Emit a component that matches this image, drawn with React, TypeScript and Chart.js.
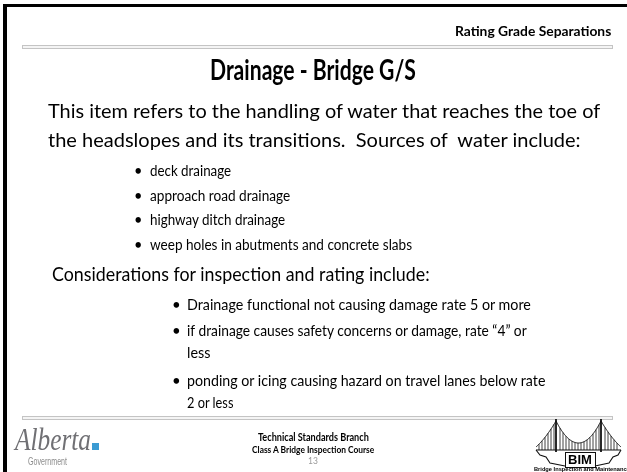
import React, { useEffect, useLayoutEffect, useRef } from "react";
import { Chart, registerables } from "chart.js";

Chart.register(...registerables);

// ---- slide content ----
const headerLabel = "Rating Grade Separations";
const slideTitle = "Drainage - Bridge G/S";
const introLines = [
  "This item refers to the handling of water that reaches the toe of",
  "the headslopes and its transitions.  Sources of  water include:",
];
const sourceItems = [
  "deck drainage",
  "approach road drainage",
  "highway ditch drainage",
  "weep holes in abutments and concrete slabs",
];
const considerationsLead = "Considerations for inspection and rating include:";
const considerationItems = [
  ["Drainage functional not causing damage rate 5 or more"],
  ["if drainage causes safety concerns or damage, rate \u201c4\u201d or", "less"],
  ["ponding or icing causing hazard on travel lanes below rate", "2 or less"],
];
const footerLines = ["Technical Standards Branch", "Class A Bridge Inspection Course"];
const pageNumber = "13";
const albertaWord = "Alberta";
const albertaSub = "Government";
const bimWord = "BIM";
const bimCaption = "Bridge Inspection and Maintenance";

type TextSpec = {
  text: string;
  x: number;
  y: number;
  size: number;
  weight?: number;
  width?: number;
  align?: "left" | "center" | "right";
  color?: string;
  family?: string;
  italic?: boolean;
};

const BODY = "Lato, 'Open Sans', sans-serif";

function FitText({ spec }: { spec: TextSpec }) {
  const ref = useRef<HTMLDivElement>(null);
  useLayoutEffect(() => {
    const el = ref.current;
    if (!el) return;
    const fit = () => {
      const natural = el.offsetWidth || 1;
      const target = spec.width ?? natural;
      const s = target / natural;
      el.style.transform = `scaleX(${s})`;
      const left =
        spec.align === "center" ? spec.x - target / 2 : spec.align === "right" ? spec.x - target : spec.x;
      el.style.left = left + "px";
    };
    fit();
    if ((document as any).fonts?.ready) (document as any).fonts.ready.then(fit);
  }, [spec]);
  return (
    <div
      ref={ref}
      style={{
        position: "absolute",
        top: spec.y - spec.size * 0.53,
        left: spec.x,
        whiteSpace: "pre",
        lineHeight: 1,
        fontSize: spec.size,
        fontFamily: spec.family ?? BODY,
        fontWeight: spec.weight ?? 400,
        fontStyle: spec.italic ? "italic" : "normal",
        color: spec.color ?? "#000",
        transformOrigin: "0 0",
      }}
    >
      {spec.text}
    </div>
  );
}

const decorPlugin = {
  id: "slideDecor",
  afterDraw(chart: any) {
    const { ctx, scales } = chart;
    const X = (v: number) => scales.x.getPixelForValue(v);
    const Y = (v: number) => scales.y.getPixelForValue(v);
    ctx.save();
    // frame
    ctx.fillStyle = "#000";
    ctx.fillRect(X(3), Y(4), X(627) - X(3), Y(7) - Y(4));
    ctx.fillRect(X(3), Y(4), X(7) - X(3), Y(472) - Y(4));
    // separator bars
    const bar = (y: number) => {
      ctx.fillStyle = "#f4f4f4";
      ctx.fillRect(X(22), Y(y), X(612) - X(22), 3);
      ctx.strokeStyle = "#c4c4c4";
      ctx.lineWidth = 1;
      ctx.strokeRect(X(22) + 0.5, Y(y) + 0.5, X(612) - X(22), 3);
    };
    bar(45);
    bar(416);
    // Alberta blue square
    ctx.fillStyle = "#3b9bd3";
    ctx.fillRect(X(92), Y(443), 7, 7);
    // BIM bridge
    ctx.strokeStyle = "#111";
    ctx.lineWidth = 1.2;
    const deckY = 450;
    const L = 536;
    const R = 621;
    const t1 = 556;
    const t2 = 601;
    const top = 421;
    ctx.beginPath();
    ctx.moveTo(X(L), Y(deckY));
    ctx.lineTo(X(R), Y(deckY));
    ctx.stroke();
    // towers
    ctx.lineWidth = 1.8;
    [t1, t2].forEach((tx) => {
      ctx.beginPath();
      ctx.moveTo(X(tx), Y(top - 2));
      ctx.lineTo(X(tx), Y(deckY + 2));
      ctx.stroke();
    });
    // cables
    ctx.lineWidth = 1;
    const cableY = (x: number) => {
      if (x <= t1) {
        const t = (x - L) / (t1 - L);
        return deckY - 3 - t * (deckY - 3 - top) + t * (1 - t) * 8;
      }
      if (x >= t2) {
        const t = (R - x) / (R - t2);
        return deckY - 3 - t * (deckY - 3 - top) + t * (1 - t) * 8;
      }
      const t = (x - t1) / (t2 - t1);
      return top + 4 * t * (1 - t) * 22;
    };
    ctx.beginPath();
    for (let x = L; x <= R; x += 0.5) {
      if (x === L) ctx.moveTo(X(x), Y(cableY(x)));
      else ctx.lineTo(X(x), Y(cableY(x)));
    }
    ctx.stroke();
    ctx.lineWidth = 0.8;
    for (let x = L + 3; x <= R - 3; x += 3) {
      if (Math.abs(x - t1) < 1.5 || Math.abs(x - t2) < 1.5) continue;
      ctx.beginPath();
      ctx.moveTo(X(x), Y(cableY(x)));
      ctx.lineTo(X(x), Y(deckY));
      ctx.stroke();
    }
    // valley outline
    ctx.lineWidth = 1.1;
    ctx.beginPath();
    ctx.moveTo(X(L), Y(deckY));
    ctx.lineTo(X(540), Y(455));
    ctx.lineTo(X(546), Y(457));
    ctx.lineTo(X(550), Y(463));
    ctx.lineTo(X(565), Y(466));
    ctx.moveTo(X(595), Y(466));
    ctx.lineTo(X(609), Y(463));
    ctx.lineTo(X(613), Y(457));
    ctx.lineTo(X(618), Y(455));
    ctx.lineTo(X(R), Y(deckY));
    ctx.stroke();
    // BIM box
    ctx.lineWidth = 1;
    ctx.strokeRect(X(565) + 0.5, Y(452) + 0.5, 30, 15);
    ctx.restore();
  },
};

export default function App() {
  const canvasRef = useRef<HTMLCanvasElement>(null);

  useEffect(() => {
    document.body.style.margin = "0";
    const canvas = canvasRef.current;
    if (!canvas) return;
    const chart = new Chart(canvas, {
      type: "scatter",
      data: { datasets: [] },
      options: {
        animation: false,
        responsive: false,
        devicePixelRatio: 1,
        layout: { padding: 0 },
        plugins: { legend: { display: false }, tooltip: { enabled: false }, title: { display: false } },
        scales: {
          x: { type: "linear", min: 0, max: 627, display: false },
          y: { type: "linear", min: 0, max: 472, reverse: true, display: false },
        },
      },
      plugins: [decorPlugin],
    });
    return () => chart.destroy();
  }, []);

  const specs: TextSpec[] = [];
  specs.push({ text: headerLabel, x: 611, y: 33, size: 12.5, weight: 700, width: 156, align: "right" });
  specs.push({ text: slideTitle, x: 313, y: 70, size: 28, weight: 700, width: 206, align: "center" });
  const introWidths = [552, 533];
  introLines.forEach((t, i) => specs.push({ text: t, x: 48, y: 111 + i * 29, size: 19, width: introWidths[i] }));
  const srcWidths = [81, 140, 135, 262];
  sourceItems.forEach((t, i) => {
    const y = 172 + i * 24.4;
    specs.push({ text: "\u2022", x: 134, y, size: 14.5 });
    specs.push({ text: t, x: 150, y, size: 14.5, width: srcWidths[i] });
  });
  specs.push({ text: considerationsLead, x: 52, y: 274, size: 19, width: 378 });
  const consY = [[305], [331, 353], [381, 403]];
  const consW = [[344], [340, 23], [358, 46]];
  considerationItems.forEach((lines, i) => {
    specs.push({ text: "\u2022", x: 172, y: consY[i][0], size: 15 });
    lines.forEach((t, j) =>
      specs.push({ text: t, x: 187, y: consY[i][j], size: 15, width: consW[i][j] })
    );
  });
  specs.push({ text: footerLines[0], x: 313, y: 437, size: 12, weight: 700, width: 111, align: "center" });
  specs.push({ text: footerLines[1], x: 313, y: 450, size: 9, weight: 700, width: 122, align: "center" });
  specs.push({ text: pageNumber, x: 313, y: 462, size: 8.5, color: "#9a9a9a", align: "center" });
  specs.push({
    text: albertaWord,
    x: 15,
    y: 440,
    size: 31,
    width: 76,
    italic: true,
    color: "#707074",
    family: "'Liberation Serif', serif",
  });
  specs.push({ text: albertaSub, x: 28, y: 462, size: 10, color: "#8c8c8c", family: "'Liberation Sans', Arial, sans-serif", width: 39 });
  specs.push({ text: bimWord, x: 580, y: 460, size: 13, weight: 700, family: "'Liberation Sans', Arial, sans-serif", align: "center", width: 24 });
  specs.push({ text: bimCaption, x: 534, y: 470, size: 4.5, weight: 700, family: "'Liberation Sans', Arial, sans-serif", width: 96 });

  return (
    <div
      style={{
        position: "fixed",
        left: 0,
        top: 0,
        width: 627,
        height: 472,
        background: "#fff",
        overflow: "hidden",
      }}
    >
      <canvas ref={canvasRef} width={627} height={472} style={{ position: "absolute", left: 0, top: 0, width: 627, height: 472 }} />
      {specs.map((s, i) => (
        <FitText key={i} spec={s} />
      ))}
    </div>
  );
}
